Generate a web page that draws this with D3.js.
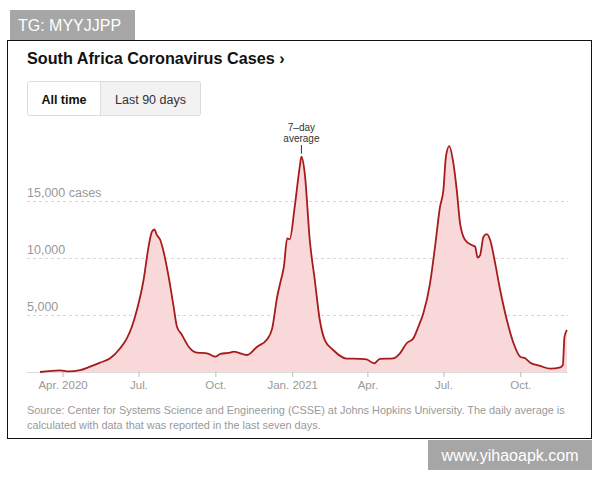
<!DOCTYPE html>
<html>
<head>
<meta charset="utf-8">
<script src="https://cdn.jsdelivr.net/npm/d3@7"></script>
<style>
  html, body { margin: 0; padding: 0; background: #fff; }
  svg { display: block; font-family: "Liberation Sans", Arial, sans-serif; }
</style>
</head>
<body>
<svg id="chart" width="600" height="480"></svg>
<script>
// 7-day average of new cases
const dates = [
  "2020-03-05", "2020-03-29", "2020-04-08", "2020-04-22", "2020-05-04", "2020-05-16", "2020-05-28",
  "2020-06-09", "2020-06-17", "2020-06-23", "2020-06-29", "2020-07-07", "2020-07-13", "2020-07-17",
  "2020-07-20", "2020-07-23", "2020-07-27", "2020-07-31", "2020-08-06", "2020-08-12", "2020-08-16",
  "2020-08-22", "2020-08-30", "2020-09-09", "2020-09-21", "2020-10-01", "2020-10-07", "2020-10-19",
  "2020-10-23", "2020-11-08", "2020-11-20", "2020-12-02", "2020-12-08", "2020-12-14", "2020-12-18",
  "2020-12-22", "2020-12-26", "2020-12-29", "2021-01-04", "2021-01-10", "2021-01-12", "2021-01-16",
  "2021-01-22", "2021-01-28", "2021-02-03", "2021-02-09", "2021-02-19", "2021-03-07", "2021-03-23",
  "2021-03-31", "2021-04-09", "2021-04-16", "2021-05-02", "2021-05-10", "2021-05-18", "2021-05-26",
  "2021-06-01", "2021-06-07", "2021-06-15", "2021-06-21", "2021-06-27", "2021-07-01", "2021-07-04",
  "2021-07-08", "2021-07-13", "2021-07-17", "2021-07-21", "2021-07-27", "2021-08-04", "2021-08-08",
  "2021-08-11", "2021-08-14", "2021-08-18", "2021-08-22", "2021-08-26", "2021-09-01", "2021-09-07",
  "2021-09-15", "2021-09-23", "2021-10-01", "2021-10-07", "2021-10-13", "2021-10-25", "2021-11-06",
  "2021-11-18", "2021-11-21", "2021-11-23", "2021-11-26"
];
const cases = [
  0, 150, 60, 170, 470, 820, 1200,
  2080, 2950, 3970, 5440, 8070, 11000, 12300,
  12500, 12000, 11580, 10550, 8360, 5730, 3970,
  3250, 2220, 1700, 1640, 1340, 1580, 1700,
  1780, 1490, 2220, 2870, 3830, 6600, 7920,
  9240, 11730, 11640, 14500, 18000, 18880, 17430,
  11580, 8070, 4560, 2800, 1930, 1180, 1150,
  1100, 760, 1150, 1200, 1640, 2520, 2950,
  3970, 5150, 7780, 11000, 14500, 15960, 18880,
  19820, 18300, 15960, 13040, 11580, 11140, 11000,
  10030, 10260, 11870, 12100, 11580, 9530, 7190,
  4560, 2520, 1340, 1200, 820, 530, 290,
  410, 610, 3100, 3680
];
const yTicks = [5000, 10000, 15000];
const yTickLabels = ["5,000", "10,000", "15,000 cases"];
const xTicks = ["2020-04-01", "2020-07-01", "2020-10-01", "2021-01-01", "2021-04-01", "2021-07-01", "2021-10-01"];
const xTickLabels = ["Apr. 2020", "Jul.", "Oct.", "Jan. 2021", "Apr.", "Jul.", "Oct."];
const buttons = ["All time", "Last 90 days"];

class CasesChart {
  constructor(el) {
    this.svg = d3.select(el);
    this.left = 27;
    this.right = 568;
    this.lineColor = "#a61c1c";
    this.areaColor = "#f9d8da";
    this.parse = d3.timeParse("%Y-%m-%d");
    this.data = dates.map((d, i) => ({ date : this.parse(d), value : cases[ i ] }));
    this.init();
  }

  init() {
    this.addFrame();
    this.addScales();
    this.addGrid();
    this.addArea();
    this.addXAxis();
    this.addNote();
  }

  addFrame() {
    // watermark boxes
    this.svg.append("rect")
      .attr("x", 10).attr("y", 10).attr("width", 125).attr("height", 30)
      .attr("fill", "#a6a6a6");
    this.svg.append("text")
      .attr("x", 18).attr("y", 31)
      .attr("font-size", 16).attr("fill", "#fff")
      .text("TG: MYYJJPP");

    this.svg.append("rect")
      .attr("x", 7.5).attr("y", 40.5).attr("width", 584).attr("height", 398)
      .attr("fill", "#fff").attr("stroke", "#111");

    this.svg.append("rect")
      .attr("x", 428).attr("y", 440).attr("width", 164).attr("height", 30)
      .attr("fill", "#a6a6a6");
    this.svg.append("text")
      .attr("x", 510).attr("y", 461)
      .attr("text-anchor", "middle")
      .attr("font-size", 16).attr("fill", "#fff")
      .text("www.yihaoapk.com");

    this.svg.append("text")
      .attr("x", this.left).attr("y", 64)
      .attr("font-size", 16.2).attr("font-weight", "bold").attr("fill", "#121212")
      .text("South Africa Coronavirus Cases \u203a");

    // toggle buttons
    const g = this.svg.append("g").attr("transform", "translate(27,81)");
    g.append("rect")
      .attr("x", 73.5).attr("y", 0.5).attr("width", 100).attr("height", 34)
      .attr("fill", "#f2f2f2");
    g.append("rect")
      .attr("x", 0.5).attr("y", 0.5).attr("width", 173).attr("height", 34).attr("rx", 2)
      .attr("fill", "none").attr("stroke", "#dcdcdc");
    g.append("line")
      .attr("x1", 73.5).attr("x2", 73.5).attr("y1", 0.5).attr("y2", 34.5)
      .attr("stroke", "#dcdcdc");
    g.selectAll(".btn")
      .data(buttons)
      .enter()
      .append("text")
      .attr("class", "btn")
      .attr("x", (d, i) => i === 0 ? 37 : 123.5)
      .attr("y", 23)
      .attr("text-anchor", "middle")
      .attr("font-size", 12.5)
      .attr("font-weight", (d, i) => i === 0 ? "bold" : "normal")
      .attr("fill", (d, i) => i === 0 ? "#121212" : "#333")
      .text(d => d);
  }

  addScales() {
    this.xScale = d3.scaleTime()
      .domain(d3.extent(this.data, d => d.date))
      .range([ 40, 567 ]);
    this.yScale = d3.scaleLinear()
      .domain([ 0, 20000 ])
      .range([ 372, 144 ]);
  }

  addGrid() {
    const grid = this.svg.append("g").attr("class", "grid");
    grid.selectAll("line")
      .data(yTicks)
      .enter()
      .append("line")
      .attr("x1", this.left).attr("x2", this.right)
      .attr("y1", d => Math.round(this.yScale(d)) + 0.5)
      .attr("y2", d => Math.round(this.yScale(d)) + 0.5)
      .attr("stroke", "#d6d6d6")
      .attr("stroke-dasharray", "3,3");
    grid.selectAll("text")
      .data(yTicks)
      .enter()
      .append("text")
      .attr("x", this.left)
      .attr("y", d => this.yScale(d) - 4)
      .attr("font-size", 12.5)
      .attr("fill", "#999")
      .text((d, i) => yTickLabels[ i ]);
  }

  addArea() {
    const area = d3.area()
      .x(d => this.xScale(d.date))
      .y0(this.yScale(0))
      .y1(d => this.yScale(d.value))
      .curve(d3.curveMonotoneX);
    const line = d3.line()
      .x(d => this.xScale(d.date))
      .y(d => this.yScale(d.value))
      .curve(d3.curveMonotoneX);

    this.svg.append("path")
      .datum(this.data)
      .attr("d", area)
      .attr("fill", this.areaColor);

    this.svg.append("line")
      .attr("x1", this.left).attr("x2", this.right)
      .attr("y1", this.yScale(0) + 0.5).attr("y2", this.yScale(0) + 0.5)
      .attr("stroke", "#ddd");

    this.svg.append("path")
      .datum(this.data)
      .attr("d", line)
      .attr("fill", "none")
      .attr("stroke", this.lineColor)
      .attr("stroke-width", 1.8)
      .attr("stroke-linejoin", "round");
  }

  addXAxis() {
    const ticks = xTicks.map(this.parse);
    const xAxis = d3.axisBottom(this.xScale)
      .tickValues(ticks)
      .tickSize(5)
      .tickPadding(4)
      .tickFormat((d, i) => xTickLabels[ i ]);
    const g = this.svg.append("g")
      .attr("transform", `translate(0,${this.yScale(0)})`)
      .call(xAxis);
    g.select(".domain").remove();
    g.selectAll("line").attr("stroke", "#bbb");
    g.selectAll("text")
      .attr("font-family", "Liberation Sans, Arial, sans-serif")
      .attr("font-size", 11.5)
      .attr("fill", "#999");
  }

  addNote() {
    const peak = this.data[ 40 ];
    const x = this.xScale(peak.date);
    const note = this.svg.append("g").attr("fill", "#333").attr("font-size", 10).attr("text-anchor", "middle");
    note.append("text").attr("x", x).attr("y", 131).text("7\u2013day");
    note.append("text").attr("x", x).attr("y", 142).text("average");
    this.svg.append("line")
      .attr("x1", x).attr("x2", x).attr("y1", 145).attr("y2", this.yScale(peak.value) - 3)
      .attr("stroke", "#333");

    const src = this.svg.append("g").attr("fill", "#999").attr("font-size", 10.9);
    src.append("text").attr("x", this.left).attr("y", 414)
      .text("Source: Center for Systems Science and Engineering (CSSE) at Johns Hopkins University. The daily average is");
    src.append("text").attr("x", this.left).attr("y", 429)
      .text("calculated with data that was reported in the last seven days.");
  }
}

new CasesChart("#chart");
</script>
</body>
</html>
